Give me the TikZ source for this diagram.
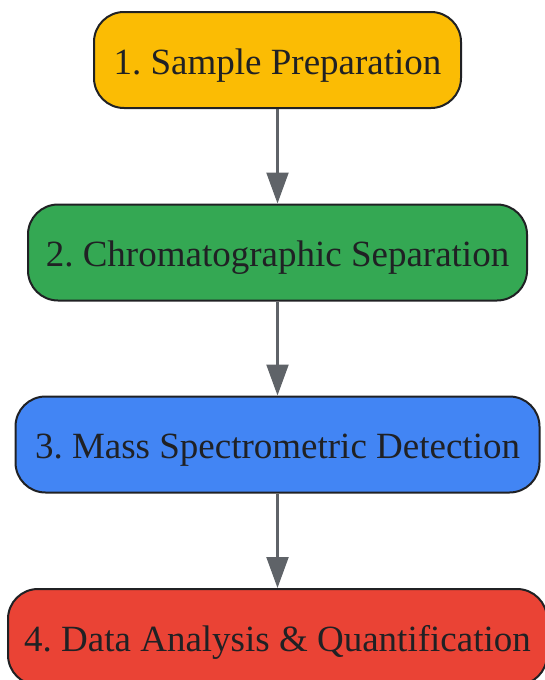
\documentclass[tikz,border=0pt]{standalone}
\usepackage{fontspec}
\setmainfont{Liberation Serif}
\usetikzlibrary{arrows.meta}
\definecolor{cyellow}{HTML}{FBBC04}
\definecolor{cgreen}{HTML}{34A853}
\definecolor{cblue}{HTML}{4285F4}
\definecolor{cred}{HTML}{EA4335}
\definecolor{cborder}{HTML}{202124}
\definecolor{carrow}{HTML}{5F6368}
\definecolor{ctext}{HTML}{202124}
\frenchspacing
\tikzset{
  stepbox/.style={draw=cborder, line width=2pt, rounded corners=30pt,
    minimum height=96pt, inner sep=0pt, text=ctext,
    text height=28pt, text depth=0pt,
    font=\fontsize{37}{44}\selectfont},
  flow/.style={draw=carrow, line width=2.2pt,
    -{Triangle[length=31pt,width=22pt]}}
}
\begin{document}
\begin{tikzpicture}[x=1pt,y=-1pt]
\useasboundingbox (0,0) rectangle (545,680);
\node[stepbox, fill=cyellow, minimum width=367pt] (s1) at (277.5,60) {1. Sample Preparation};
\node[stepbox, fill=cgreen, minimum width=499pt] (s2) at (277.5,252.5) {2. Chromatographic Separation};
\node[stepbox, fill=cblue, minimum width=524pt] (s3) at (277.5,444.5) {3. Mass Spectrometric Detection};
\node[stepbox, fill=cred, minimum width=539pt] (s4) at (277.5,637) {4. Data Analysis \& Quantification};
\draw[flow] (s1) -- (s2);
\draw[flow] (s2) -- (s3);
\draw[flow] (s3) -- (s4);
\end{tikzpicture}
\end{document}
